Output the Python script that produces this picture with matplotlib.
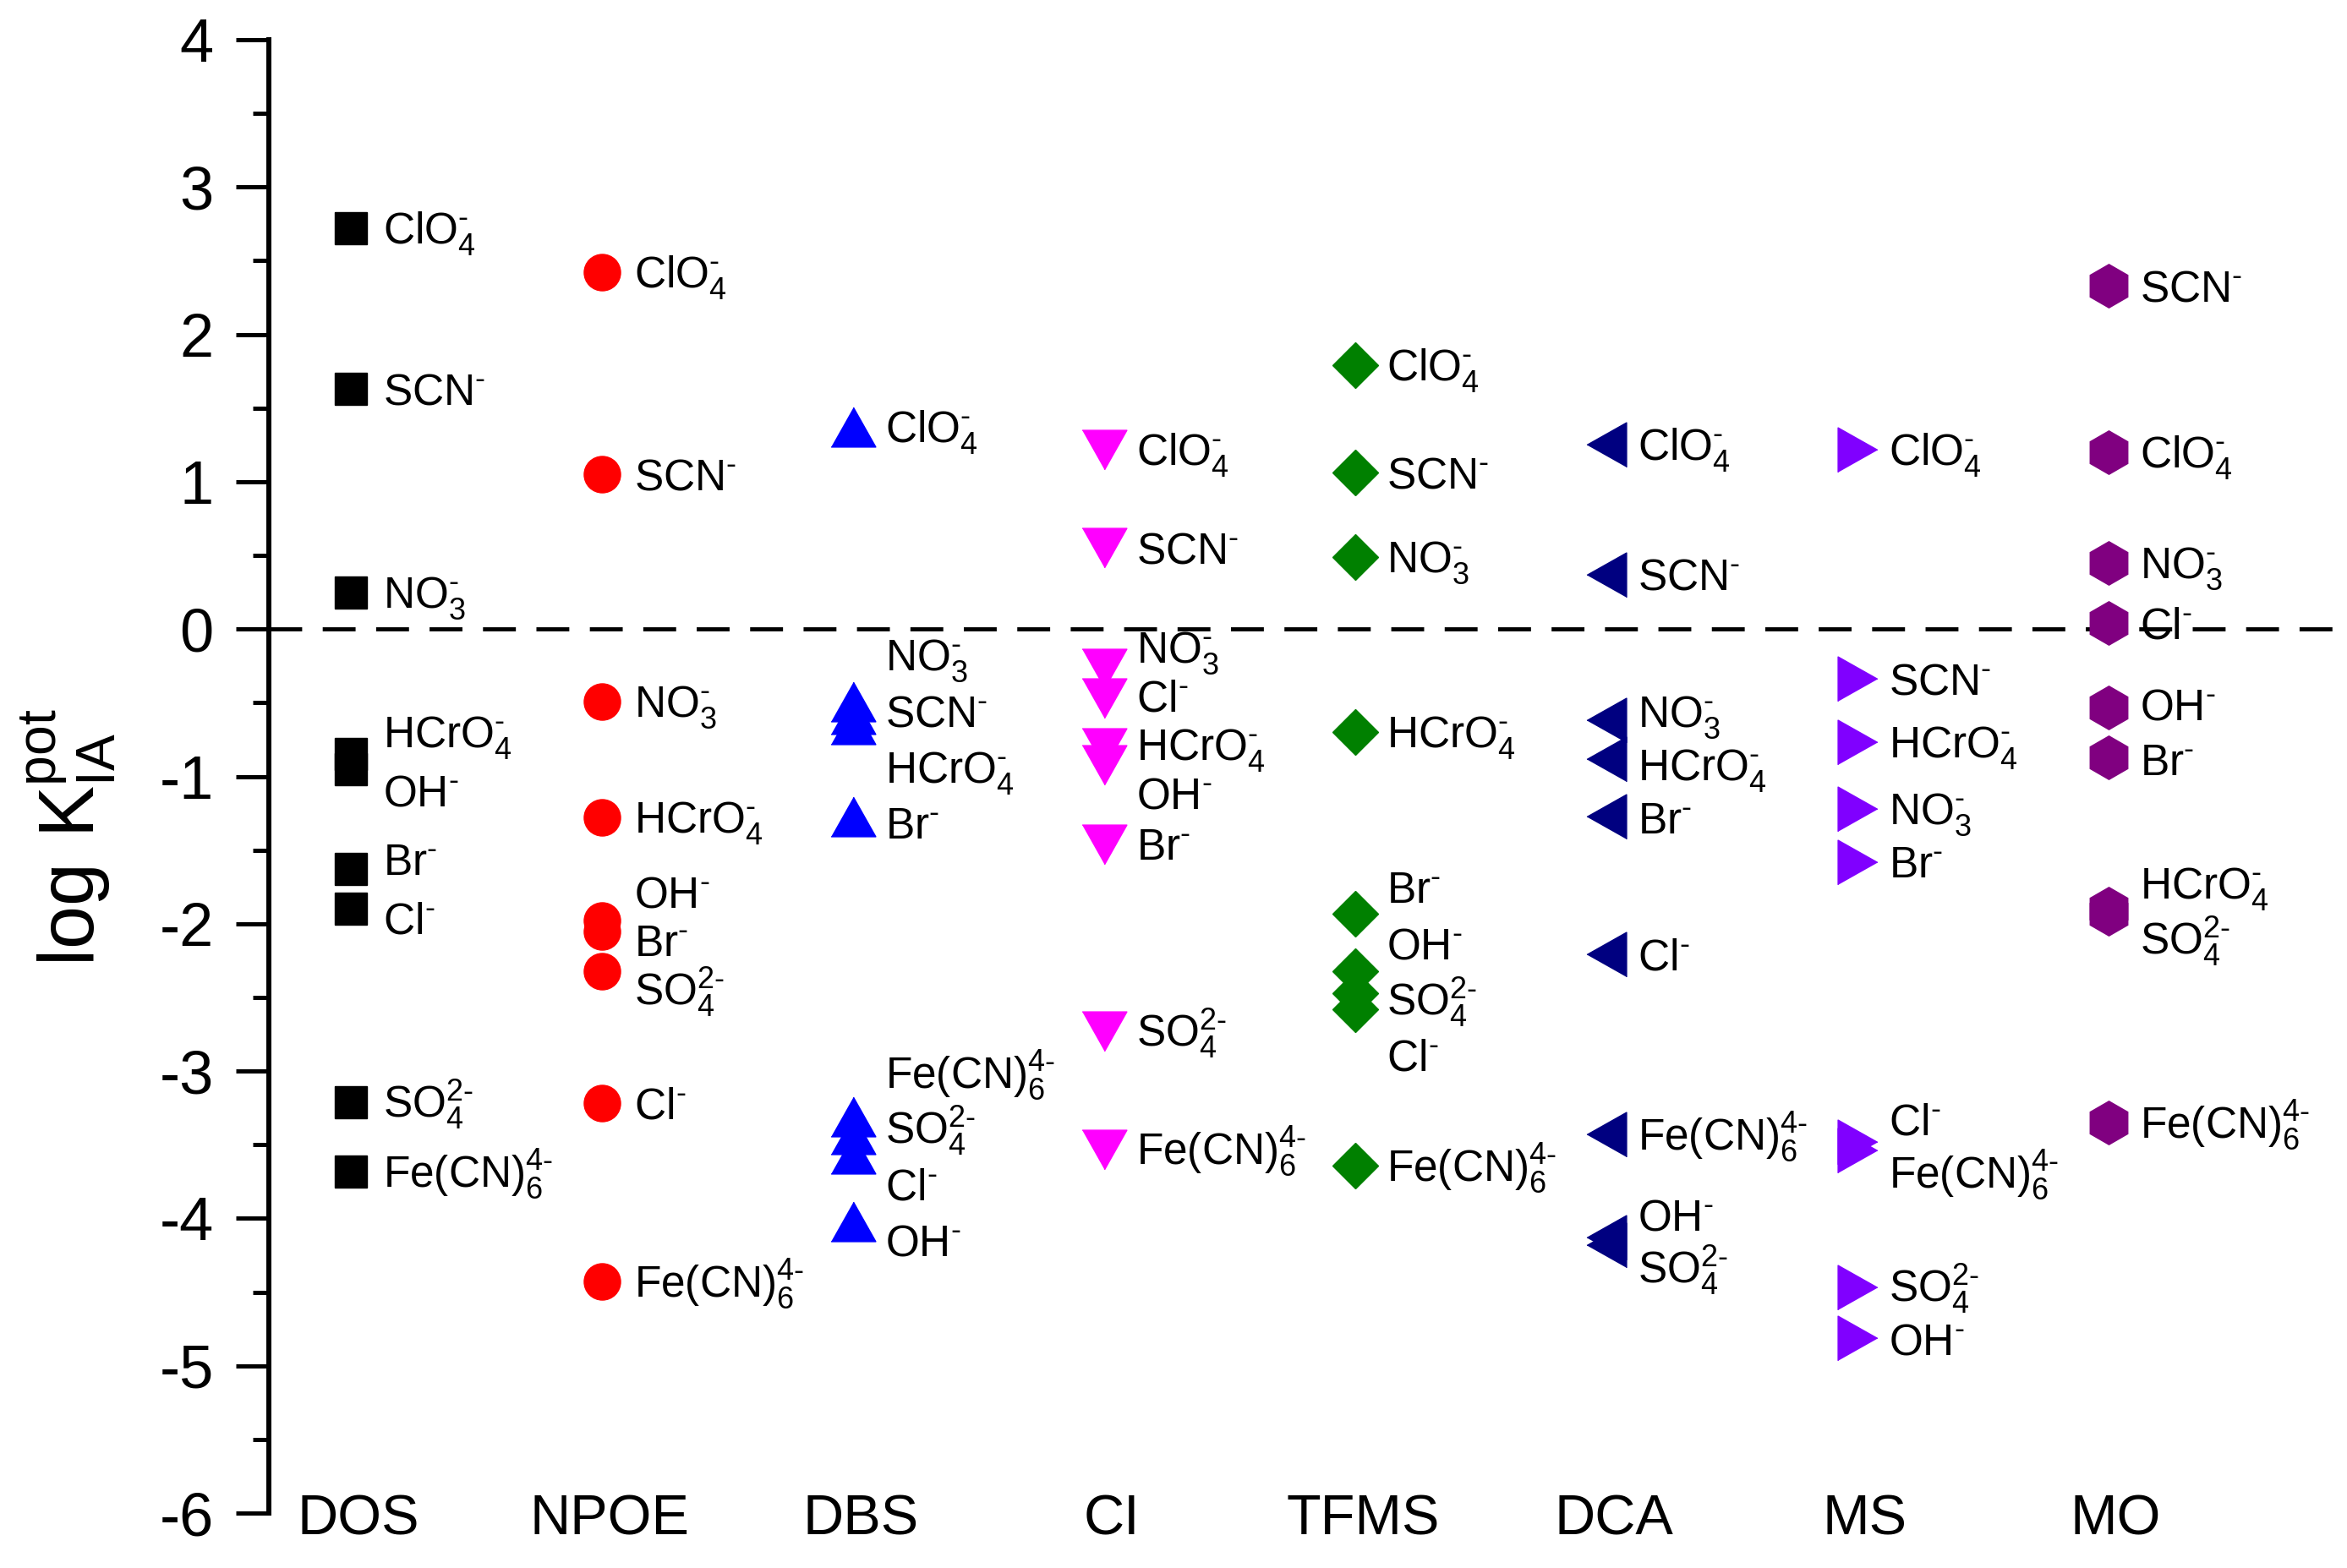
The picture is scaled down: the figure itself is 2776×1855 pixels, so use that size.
import numpy as np
import matplotlib
matplotlib.use('Agg')
import matplotlib.pyplot as plt

plt.rcParams['font.family'] = ['Liberation Sans', 'DejaVu Sans']
plt.rcParams['mathtext.fontset'] = 'custom'
plt.rcParams['mathtext.rm'] = 'Liberation Sans'
plt.rcParams['axes.unicode_minus'] = False

# membranes (x categories) and ions
membranes = ['DOS', 'NPOE', 'DBS', 'CI', 'TFMS', 'DCA', 'MS', 'MO']
h = '\u2010'  # short hyphen for the charge sign
ions = [r'$\mathregular{ClO_4^{%s}}$' % h, r'$\mathregular{SCN^{%s}}$' % h,
        r'$\mathregular{NO_3^{%s}}$' % h, r'$\mathregular{HCrO_4^{%s}}$' % h,
        r'$\mathregular{OH^{%s}}$' % h, r'$\mathregular{Br^{%s}}$' % h,
        r'$\mathregular{Cl^{%s}}$' % h, r'$\mathregular{SO_4^{2%s}}$' % h,
        r'$\mathregular{Fe(CN)_6^{4%s}}$' % h]

# log K values, same order as ions
dos = [2.72, 1.63, 0.25, -0.85, -0.95, -1.63, -1.90, -3.21, -3.68]
npoe = [2.42, 1.05, -0.49, -1.28, -1.98, -2.05, -3.22, -2.32, -4.43]
dbs = [1.37, -0.58, -0.49, -0.65, -4.02, -1.27, -3.56, -3.43, -3.31]
ci = [1.22, 0.55, -0.27, -0.81, -0.92, -1.46, -0.47, -2.73, -3.53]
tfms = [1.79, 1.06, 0.49, -0.70, -2.32, -1.93, -2.58, -2.47, -3.64]
dca = [1.25, 0.37, -0.62, -0.88, -4.13, -1.27, -2.21, -4.18, -3.43]
ms = [1.22, -0.34, -1.22, -0.77, -4.81, -1.58, -3.48, -4.47, -3.54]
mo = [1.20, 2.33, 0.45, -1.90, -0.53, -0.87, 0.04, -1.93, -3.35]
all_vals = [dos, npoe, dbs, ci, tfms, dca, ms, mo]

# wider-than-tall triangles like the original
tri_up = [(-0.5, -0.4435), (0.5, -0.4435), (0, 0.4435)]
tri_dn = [(-0.5, 0.4435), (0.5, 0.4435), (0, -0.4435)]
tri_lf = [(0.4435, -0.5), (0.4435, 0.5), (-0.4435, 0)]
tri_rt = [(-0.4435, -0.5), (-0.4435, 0.5), (0.4435, 0)]
markers = ['s', 'o', tri_up, tri_dn, 'D', tri_lf, tri_rt, 'h']
sizes = [28, 31, 38, 38, 28, 38, 38, 37]
colors = ['#000000', '#ff0000', '#0000ff', '#ff00ff', '#008000', '#000080', '#8000ff', '#800080']
# vertical gap between stacked labels, per column
gaps = [0.40, 0.33, 0.38, 0.33, 0.38, 0.36, 0.36, 0.38]


def spread(vals, d=0.33):
    # push labels apart so they don't overlap, keep each group centred
    order = np.argsort(vals)[::-1]
    groups = [[i] for i in order]
    changed = True
    while changed:
        changed = False
        pos = []
        for g in groups:
            m = np.mean([vals[i] for i in g])
            pos.append(m + d * (len(g) - 1) / 2)
        for k in range(len(groups) - 1):
            bottom_k = pos[k] - d * (len(groups[k]) - 1)
            if bottom_k - pos[k + 1] < d - 1e-9:
                groups[k] = groups[k] + groups[k + 1]
                del groups[k + 1]
                changed = True
                break
    out = {}
    for g in groups:
        m = np.mean([vals[i] for i in g])
        top = m + d * (len(g) - 1) / 2
        for j, i in enumerate(g):
            out[i] = top - j * d
    return out


fig = plt.figure(figsize=(27.76, 18.55), dpi=100)
ax = fig.add_axes([0.1146, 0.035, 0.880, 0.9397])

ax.axhline(0, color='black', lw=3.5, ls=(0, (8, 5)), zorder=1)

for i, vals in enumerate(all_vals):
    ax.plot([i] * len(vals), vals, ls='none', marker=markers[i], ms=sizes[i],
            color=colors[i], mec=colors[i], mew=1, clip_on=False, zorder=3)
    lab_y = spread(vals, gaps[i])
    for k, name in enumerate(ions):
        ax.annotate(name, xy=(i, lab_y[k]), xytext=(27, -13), textcoords='offset points',
                    fontsize=37, va='baseline', ha='left', zorder=4)
    ax.text(i + 0.03, -6.05, membranes[i], fontsize=48, ha='center', va='center')

ax.set_xlim(-0.327, 7.90)
ax.set_ylim(-6, 4)
ax.set_xticks([])
ax.set_yticks(range(-6, 5))
ax.set_yticks(np.arange(-5.5, 4, 1), minor=True)
ax.tick_params(axis='y', which='major', direction='out', length=28, width=3.6, pad=19, labelsize=52)
ax.tick_params(axis='y', which='minor', direction='out', length=14, width=3.6)
for s in ['top', 'right', 'bottom']:
    ax.spines[s].set_visible(False)
ax.spines['left'].set_linewidth(4.3)

fig.text(0.029, 0.466, r'$\mathregular{log\ K_{IA}^{pot}}$', fontsize=66,
         rotation=90, ha='center', va='center')

fig.savefig('out.png', dpi=100)
